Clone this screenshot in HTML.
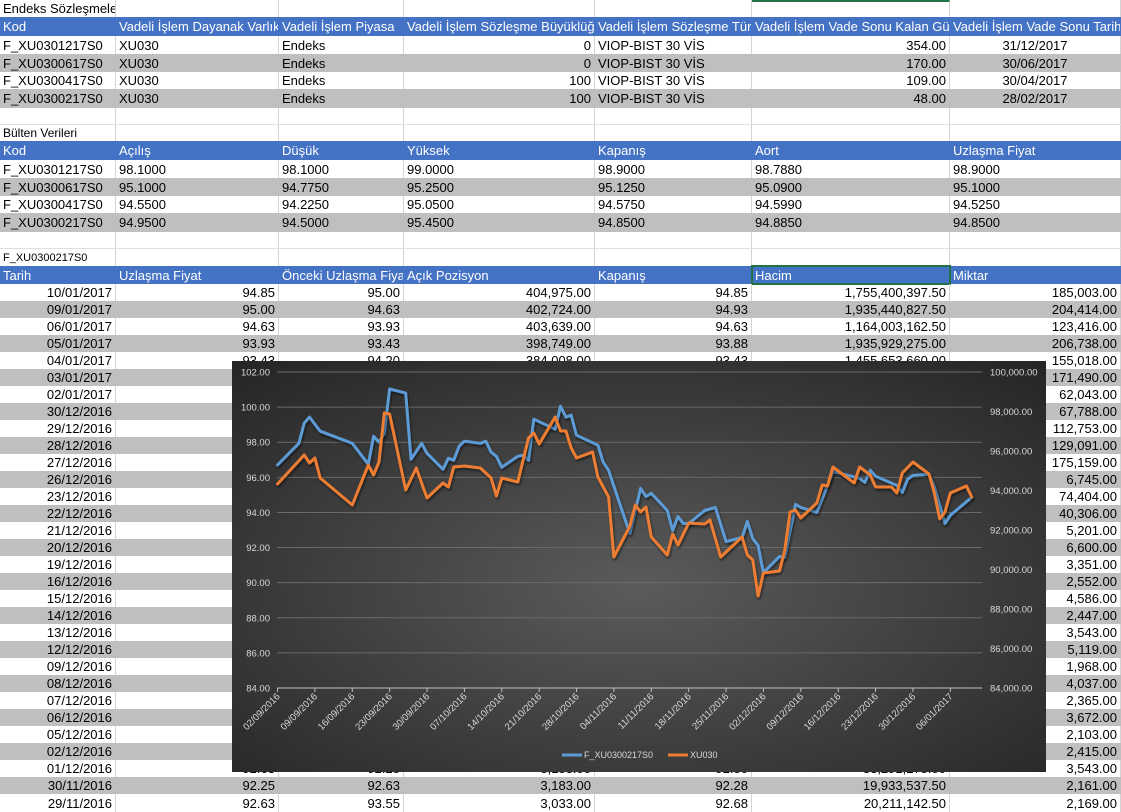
<!DOCTYPE html>
<html><head><meta charset="utf-8">
<style>
*{margin:0;padding:0;box-sizing:border-box}
body{width:1121px;height:812px;overflow:hidden;background:#fff;position:relative;font-family:"Liberation Sans",sans-serif;font-size:13px;color:#000}
.row{position:absolute;left:0;width:1121px}
.g{background:#bfbfbf}
.h{background:#4472c4;color:#fff}
.cell{position:absolute;top:0;height:100%;padding:0 3px;white-space:nowrap;overflow:hidden;border-right:1px solid #d4d4d4;display:flex;align-items:center}
.g .cell,.h .cell{border-right-color:transparent}
.r{justify-content:flex-end}
.ctr{justify-content:center}
.A{left:0;width:116px}.B{left:116px;width:163px}.C{left:279px;width:125px}.D{left:404px;width:191px}.E{left:595px;width:157px}.F{left:752px;width:198px}.G{left:950px;width:171px}
#chart{position:absolute;left:232px;top:361px}
.sel{position:absolute;left:751px;top:265px;width:200px;height:20px;border:2px solid #217346}
</style></head><body>

<div class="row" style="top:0;height:17px"><div class="cell A">Endeks Sözleşmeleri</div><div class="cell B"></div><div class="cell C"></div><div class="cell D"></div><div class="cell E"></div><div class="cell F" style="border-top:2px solid #217346"></div><div class="cell G"></div></div>
<div class="row h" style="top:17px;height:19px"><div class="cell A">Kod</div><div class="cell B">Vadeli İşlem Dayanak Varlık</div><div class="cell C">Vadeli İşlem Piyasa</div><div class="cell D">Vadeli İşlem Sözleşme Büyüklüğü</div><div class="cell E">Vadeli İşlem Sözleşme Türü</div><div class="cell F">Vadeli İşlem Vade Sonu Kalan Gün</div><div class="cell G">Vadeli İşlem Vade Sonu Tarih</div></div>
<div class="row" style="top:36px;height:18px"><div class="cell A">F_XU0301217S0</div><div class="cell B">XU030</div><div class="cell C">Endeks</div><div class="cell D r">0</div><div class="cell E">VIOP-BIST 30 VİS</div><div class="cell F r">354.00</div><div class="cell G ctr">31/12/2017</div></div>
<div class="row g" style="top:54px;height:18px"><div class="cell A">F_XU0300617S0</div><div class="cell B">XU030</div><div class="cell C">Endeks</div><div class="cell D r">0</div><div class="cell E">VIOP-BIST 30 VİS</div><div class="cell F r">170.00</div><div class="cell G ctr">30/06/2017</div></div>
<div class="row" style="top:72px;height:17px"><div class="cell A">F_XU0300417S0</div><div class="cell B">XU030</div><div class="cell C">Endeks</div><div class="cell D r">100</div><div class="cell E">VIOP-BIST 30 VİS</div><div class="cell F r">109.00</div><div class="cell G ctr">30/04/2017</div></div>
<div class="row g" style="top:89px;height:19px"><div class="cell A">F_XU0300217S0</div><div class="cell B">XU030</div><div class="cell C">Endeks</div><div class="cell D r">100</div><div class="cell E">VIOP-BIST 30 VİS</div><div class="cell F r">48.00</div><div class="cell G ctr">28/02/2017</div></div>
<div class="row" style="top:108px;height:17px;border-bottom:1px solid #e0e0e0"><div class="cell A"></div><div class="cell B"></div><div class="cell C"></div><div class="cell D"></div><div class="cell E"></div><div class="cell F"></div><div class="cell G"></div></div>
<div class="row" style="top:125px;height:16px"><div class="cell A" style="font-size:12px">Bülten Verileri</div><div class="cell B"></div><div class="cell C"></div><div class="cell D"></div><div class="cell E"></div><div class="cell F"></div><div class="cell G"></div></div>
<div class="row h" style="top:141px;height:19px"><div class="cell A">Kod</div><div class="cell B">Açılış</div><div class="cell C">Düşük</div><div class="cell D">Yüksek</div><div class="cell E">Kapanış</div><div class="cell F">Aort</div><div class="cell G">Uzlaşma Fiyat</div></div>
<div class="row" style="top:160px;height:18px"><div class="cell A">F_XU0301217S0</div><div class="cell B">98.1000</div><div class="cell C">98.1000</div><div class="cell D">99.0000</div><div class="cell E">98.9000</div><div class="cell F">98.7880</div><div class="cell G">98.9000</div></div>
<div class="row g" style="top:178px;height:18px"><div class="cell A">F_XU0300617S0</div><div class="cell B">95.1000</div><div class="cell C">94.7750</div><div class="cell D">95.2500</div><div class="cell E">95.1250</div><div class="cell F">95.0900</div><div class="cell G">95.1000</div></div>
<div class="row" style="top:196px;height:17px"><div class="cell A">F_XU0300417S0</div><div class="cell B">94.5500</div><div class="cell C">94.2250</div><div class="cell D">95.0500</div><div class="cell E">94.5750</div><div class="cell F">94.5990</div><div class="cell G">94.5250</div></div>
<div class="row g" style="top:213px;height:19px"><div class="cell A">F_XU0300217S0</div><div class="cell B">94.9500</div><div class="cell C">94.5000</div><div class="cell D">95.4500</div><div class="cell E">94.8500</div><div class="cell F">94.8850</div><div class="cell G">94.8500</div></div>
<div class="row" style="top:232px;height:17px;border-bottom:1px solid #e0e0e0"><div class="cell A"></div><div class="cell B"></div><div class="cell C"></div><div class="cell D"></div><div class="cell E"></div><div class="cell F"></div><div class="cell G"></div></div>
<div class="row" style="top:249px;height:17px"><div class="cell A" style="font-size:11px">F_XU0300217S0</div><div class="cell B"></div><div class="cell C"></div><div class="cell D"></div><div class="cell E"></div><div class="cell F"></div><div class="cell G"></div></div>
<div class="row h" style="top:266px;height:18px"><div class="cell A">Tarih</div><div class="cell B">Uzlaşma Fiyat</div><div class="cell C">Önceki Uzlaşma Fiyat</div><div class="cell D">Açık Pozisyon</div><div class="cell E">Kapanış</div><div class="cell F">Hacim</div><div class="cell G">Miktar</div></div>
<div class="sel"></div>

<div id="hist">
<div class="row" style="top:284px;height:17px"><div class="cell A r">10/01/2017</div><div class="cell B r">94.85</div><div class="cell C r">95.00</div><div class="cell D r">404,975.00</div><div class="cell E r">94.85</div><div class="cell F r">1,755,400,397.50</div><div class="cell G r">185,003.00</div></div>
<div class="row g" style="top:301px;height:17px"><div class="cell A r">09/01/2017</div><div class="cell B r">95.00</div><div class="cell C r">94.63</div><div class="cell D r">402,724.00</div><div class="cell E r">94.93</div><div class="cell F r">1,935,440,827.50</div><div class="cell G r">204,414.00</div></div>
<div class="row" style="top:318px;height:17px"><div class="cell A r">06/01/2017</div><div class="cell B r">94.63</div><div class="cell C r">93.93</div><div class="cell D r">403,639.00</div><div class="cell E r">94.63</div><div class="cell F r">1,164,003,162.50</div><div class="cell G r">123,416.00</div></div>
<div class="row g" style="top:335px;height:17px"><div class="cell A r">05/01/2017</div><div class="cell B r">93.93</div><div class="cell C r">93.43</div><div class="cell D r">398,749.00</div><div class="cell E r">93.88</div><div class="cell F r">1,935,929,275.00</div><div class="cell G r">206,738.00</div></div>
<div class="row" style="top:352px;height:17px"><div class="cell A r">04/01/2017</div><div class="cell B r">93.43</div><div class="cell C r">94.20</div><div class="cell D r">384,008.00</div><div class="cell E r">93.43</div><div class="cell F r">1,455,653,660.00</div><div class="cell G r">155,018.00</div></div>
<div class="row g" style="top:369px;height:17px"><div class="cell A r">03/01/2017</div><div class="cell G r">171,490.00</div></div>
<div class="row" style="top:386px;height:17px"><div class="cell A r">02/01/2017</div><div class="cell G r">62,043.00</div></div>
<div class="row g" style="top:403px;height:17px"><div class="cell A r">30/12/2016</div><div class="cell G r">67,788.00</div></div>
<div class="row" style="top:420px;height:17px"><div class="cell A r">29/12/2016</div><div class="cell G r">112,753.00</div></div>
<div class="row g" style="top:437px;height:17px"><div class="cell A r">28/12/2016</div><div class="cell G r">129,091.00</div></div>
<div class="row" style="top:454px;height:17px"><div class="cell A r">27/12/2016</div><div class="cell G r">175,159.00</div></div>
<div class="row g" style="top:471px;height:17px"><div class="cell A r">26/12/2016</div><div class="cell G r">6,745.00</div></div>
<div class="row" style="top:488px;height:17px"><div class="cell A r">23/12/2016</div><div class="cell G r">74,404.00</div></div>
<div class="row g" style="top:505px;height:17px"><div class="cell A r">22/12/2016</div><div class="cell G r">40,306.00</div></div>
<div class="row" style="top:522px;height:17px"><div class="cell A r">21/12/2016</div><div class="cell G r">5,201.00</div></div>
<div class="row g" style="top:539px;height:17px"><div class="cell A r">20/12/2016</div><div class="cell G r">6,600.00</div></div>
<div class="row" style="top:556px;height:17px"><div class="cell A r">19/12/2016</div><div class="cell G r">3,351.00</div></div>
<div class="row g" style="top:573px;height:17px"><div class="cell A r">16/12/2016</div><div class="cell G r">2,552.00</div></div>
<div class="row" style="top:590px;height:17px"><div class="cell A r">15/12/2016</div><div class="cell G r">4,586.00</div></div>
<div class="row g" style="top:607px;height:17px"><div class="cell A r">14/12/2016</div><div class="cell G r">2,447.00</div></div>
<div class="row" style="top:624px;height:17px"><div class="cell A r">13/12/2016</div><div class="cell G r">3,543.00</div></div>
<div class="row g" style="top:641px;height:17px"><div class="cell A r">12/12/2016</div><div class="cell G r">5,119.00</div></div>
<div class="row" style="top:658px;height:17px"><div class="cell A r">09/12/2016</div><div class="cell G r">1,968.00</div></div>
<div class="row g" style="top:675px;height:17px"><div class="cell A r">08/12/2016</div><div class="cell G r">4,037.00</div></div>
<div class="row" style="top:692px;height:17px"><div class="cell A r">07/12/2016</div><div class="cell G r">2,365.00</div></div>
<div class="row g" style="top:709px;height:17px"><div class="cell A r">06/12/2016</div><div class="cell G r">3,672.00</div></div>
<div class="row" style="top:726px;height:17px"><div class="cell A r">05/12/2016</div><div class="cell G r">2,103.00</div></div>
<div class="row g" style="top:743px;height:17px"><div class="cell A r">02/12/2016</div><div class="cell G r">2,415.00</div></div>
<div class="row" style="top:760px;height:17px"><div class="cell A r">01/12/2016</div><div class="cell B r">92.63</div><div class="cell C r">92.25</div><div class="cell D r">3,183.00</div><div class="cell E r">92.50</div><div class="cell F r">33,291,275.00</div><div class="cell G r">3,543.00</div></div>
<div class="row g" style="top:777px;height:17px"><div class="cell A r">30/11/2016</div><div class="cell B r">92.25</div><div class="cell C r">92.63</div><div class="cell D r">3,183.00</div><div class="cell E r">92.28</div><div class="cell F r">19,933,537.50</div><div class="cell G r">2,161.00</div></div>
<div class="row" style="top:794px;height:18px"><div class="cell A r">29/11/2016</div><div class="cell B r">92.63</div><div class="cell C r">93.55</div><div class="cell D r">3,033.00</div><div class="cell E r">92.68</div><div class="cell F r">20,211,142.50</div><div class="cell G r">2,169.00</div></div>
</div>

<svg id="chart" width="814" height="411" viewBox="232 361 814 411" font-family="Liberation Sans, sans-serif">
<defs>
<radialGradient id="bg" cx="0.5" cy="0.55" r="0.75">
<stop offset="0" stop-color="#5b5b5b"/><stop offset="1" stop-color="#242424"/>
</radialGradient>
<filter id="sh" x="-5%" y="-5%" width="110%" height="110%"><feDropShadow dx="1" dy="2" stdDeviation="1.2" flood-color="#000" flood-opacity="0.55"/></filter>
</defs>
<rect x="232" y="361" width="814" height="411" fill="url(#bg)"/>
<g id="grid"></g><g id="axes"></g><g id="series"></g>
<g font-size="9" fill="#d9d9d9">
<line x1="562" y1="755" x2="582" y2="755" stroke="#5b9bd5" stroke-width="3"/>
<text x="584" y="758">F_XU0300217S0</text>
<line x1="668" y1="755" x2="688" y2="755" stroke="#ed7d31" stroke-width="3"/>
<text x="690" y="758">XU030</text>
</g>
</svg>

<script>
const futDates=["2016-09-02","2016-09-06","2016-09-07","2016-09-08","2016-09-10","2016-09-16","2016-09-19","2016-09-20","2016-09-21","2016-09-22","2016-09-23","2016-09-26","2016-09-27","2016-09-29","2016-09-30","2016-10-03","2016-10-04","2016-10-05","2016-10-06","2016-10-07","2016-10-10","2016-10-11","2016-10-12","2016-10-13","2016-10-14","2016-10-17","2016-10-18","2016-10-19","2016-10-20","2016-10-24","2016-10-25","2016-10-26","2016-10-27","2016-10-28","2016-11-01","2016-11-02","2016-11-03","2016-11-05","2016-11-07","2016-11-09","2016-11-10","2016-11-11","2016-11-14","2016-11-15","2016-11-16","2016-11-17","2016-11-18","2016-11-21","2016-11-23","2016-11-25","2016-11-28","2016-11-29","2016-11-30","2016-12-01","2016-12-02","2016-12-05","2016-12-06","2016-12-08","2016-12-09","2016-12-12","2016-12-14","2016-12-15","2016-12-20","2016-12-21","2016-12-22","2016-12-23","2016-12-27","2016-12-28","2016-12-29","2016-12-30","2017-01-02","2017-01-03","2017-01-05","2017-01-06","2017-01-10"];
const futValues=[96.70,97.94,99.09,99.43,98.63,97.94,96.74,98.34,98.00,98.51,101.03,100.80,97.03,97.94,97.37,96.46,97.09,96.97,97.77,98.06,97.94,98.06,97.43,97.20,96.57,97.20,97.26,96.97,99.31,98.74,100.06,99.43,99.54,98.40,97.83,96.86,96.40,94.57,92.80,95.37,94.91,95.09,94.11,92.97,93.77,93.37,93.37,94.11,94.29,92.34,92.57,93.49,92.51,92.11,90.57,91.49,91.43,94.46,94.29,94.00,95.54,96.34,95.94,95.71,96.40,96.06,95.54,95.14,95.89,96.11,96.17,95.43,93.37,93.83,94.86];
const idxDates=["2016-09-02","2016-09-07","2016-09-08","2016-09-09","2016-09-10","2016-09-16","2016-09-19","2016-09-20","2016-09-21","2016-09-22","2016-09-23","2016-09-26","2016-09-28","2016-09-30","2016-10-03","2016-10-04","2016-10-05","2016-10-07","2016-10-10","2016-10-12","2016-10-13","2016-10-14","2016-10-17","2016-10-19","2016-10-20","2016-10-21","2016-10-24","2016-10-25","2016-10-26","2016-10-27","2016-10-28","2016-10-31","2016-11-01","2016-11-03","2016-11-04","2016-11-07","2016-11-08","2016-11-09","2016-11-10","2016-11-11","2016-11-14","2016-11-15","2016-11-16","2016-11-18","2016-11-21","2016-11-22","2016-11-24","2016-11-28","2016-11-29","2016-11-30","2016-12-01","2016-12-02","2016-12-05","2016-12-06","2016-12-07","2016-12-08","2016-12-09","2016-12-12","2016-12-13","2016-12-14","2016-12-15","2016-12-19","2016-12-20","2016-12-22","2016-12-23","2016-12-26","2016-12-27","2016-12-28","2016-12-30","2017-01-02","2017-01-03","2017-01-04","2017-01-05","2017-01-06","2017-01-09","2017-01-10"];
const idxValues=[94329,95798,95393,95646,94633,93266,95291,94785,95443,97924,97873,94026,95140,93621,94380,94178,95190,95241,95140,94633,93722,94633,94431,96658,96912,96355,97722,97013,97013,96152,95646,95950,94684,93671,90633,92203,93266,92912,93165,91646,90735,91798,91241,92355,92304,92507,90633,91646,90735,90482,88660,89823,89925,90988,92912,93013,92608,93367,94279,94228,95190,94380,95190,94785,94178,94178,93874,94887,95443,94836,93874,92557,92912,93874,94228,93671];
const leftTicks=[84,86,88,90,92,94,96,98,100,102];
const rightTicks=[84000,86000,88000,90000,92000,94000,96000,98000,100000];
const dateTicks=["02/09/2016","09/09/2016","16/09/2016","23/09/2016","30/09/2016","07/10/2016","14/10/2016","21/10/2016","28/10/2016","04/11/2016","11/11/2016","18/11/2016","25/11/2016","02/12/2016","09/12/2016","16/12/2016","23/12/2016","30/12/2016","06/01/2017"];

const NS="http://www.w3.org/2000/svg";
const X0=277.5,PX_PER_DAY=5.34,START=Date.UTC(2016,8,2);
const PT=372,PB=688;
function dayOf(s){const p=s.split("-");return (Date.UTC(+p[0],+p[1]-1,+p[2])-START)/86400000;}
function dayOfDMY(s){const p=s.split("/");return dayOf(p[2]+"-"+p[1]+"-"+p[0]);}
function xScale(d){return X0+d*PX_PER_DAY;}
function yLeft(v){return PB-(v-84)/(102-84)*(PB-PT);}
function yRight(v){return PB-(v-84000)/(100000-84000)*(PB-PT);}
function mk(tag,attrs,parent){const e=document.createElementNS(NS,tag);for(const k in attrs)e.setAttribute(k,attrs[k]);parent.appendChild(e);return e;}
const grid=document.getElementById("grid"),axes=document.getElementById("axes"),series=document.getElementById("series");
const fmt=n=>n.toFixed(2);
const fmtK=n=>n.toLocaleString("en-US",{minimumFractionDigits:2,maximumFractionDigits:2});
leftTicks.forEach(v=>{
  const y=yLeft(v);
  if(v>84){const l=mk("line",{x1:277,x2:982,y1:y,y2:y,stroke:"#6a6a6a","stroke-width":1},grid);
  
  }
  const t=mk("text",{x:270,y:y+3.5,"text-anchor":"end","font-size":"9.5",fill:"#d9d9d9"},axes);t.textContent=fmt(v);
  
  
});
rightTicks.forEach(v=>{
  const y=yRight(v);
  const t=mk("text",{x:990,y:y+3.5,"font-size":"9.5",fill:"#d9d9d9"},axes);t.textContent=fmtK(v);
  
  
});
const ax=mk("line",{x1:277,x2:982,y1:PB,y2:PB,stroke:"#bfbfbf","stroke-width":1},axes);


dateTicks.forEach(s=>{
  const x=xScale(dayOfDMY(s));
  const tk=mk("line",{x1:x,x2:x,y1:PB,y2:PB+4,stroke:"#bfbfbf"},axes);
  
  
  const t=mk("text",{x:x+3,y:PB+9,"text-anchor":"end","font-size":"9.5",fill:"#d9d9d9",transform:`rotate(-45 ${x+3} ${PB+9})`},axes);t.textContent=s;
  
  
});
function drawLine(dates,vals,yf,color,name){
  const pts=dates.map((d,i)=>xScale(dayOf(d)).toFixed(1)+","+yf(vals[i]).toFixed(1)).join(" ");
  const p=mk("polyline",{points:pts,fill:"none",stroke:color,"stroke-width":3,"stroke-linejoin":"round","stroke-linecap":"round",filter:"url(#sh)"},series);
  
  
}
drawLine(futDates,futValues,yLeft,"#5b9bd5","series-line-futures");
drawLine(idxDates,idxValues,yRight,"#ed7d31","series-line-index");
</script>
</body></html>
